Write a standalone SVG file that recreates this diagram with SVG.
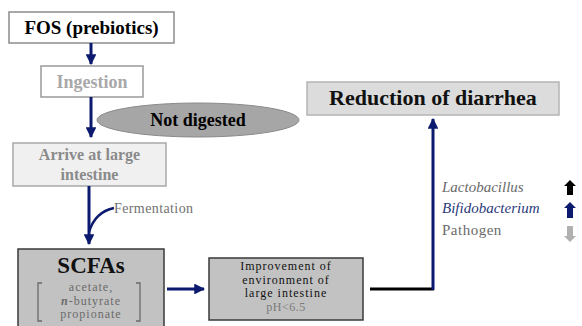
<svg xmlns="http://www.w3.org/2000/svg" width="582" height="326" viewBox="0 0 582 326">
<defs>
<marker id="ah" viewBox="0 0 10 10" refX="9" refY="5" markerWidth="3.6" markerHeight="3.6" orient="auto" markerUnits="strokeWidth">
<path d="M0,0 L10,5 L0,10 Z" fill="#0b1a6e"/>
</marker>
</defs>
<rect width="582" height="326" fill="#ffffff"/>
<g id="fos">
<rect x="9" y="12" width="165" height="31" fill="#ffffff" stroke="#8c8c8c" stroke-width="1.5"/>
<text font-family="Liberation Serif, serif" font-weight="bold" text-anchor="middle" x="91.5" y="34" font-size="19" fill="#000">FOS (prebiotics)</text>
</g>
<g id="ingestion">
<rect x="41" y="66" width="102" height="31" fill="#ffffff" stroke="#9a9a9a" stroke-width="1.5"/>
<text font-family="Liberation Serif, serif" font-weight="bold" text-anchor="middle" x="92" y="88" font-size="18" fill="#a8a8a8">Ingestion</text>
</g>
<g id="not-digested">
<ellipse cx="198" cy="120" rx="101" ry="17" fill="#a6a6a6" stroke="#8a8a8a" stroke-width="1"/>
<text font-family="Liberation Serif, serif" font-weight="bold" text-anchor="middle" x="198" y="126" font-size="18" fill="#000">Not digested</text>
</g>
<g id="arrive">
<rect x="13" y="143" width="153" height="43" fill="#f0f0f0" stroke="#a8a8a8" stroke-width="1.5"/>
<text font-family="Liberation Serif, serif" font-weight="bold" text-anchor="middle" x="89.5" y="160" font-size="16" fill="#8a8a8a">Arrive at large</text>
<text font-family="Liberation Serif, serif" font-weight="bold" text-anchor="middle" x="89.5" y="180" font-size="16" fill="#8a8a8a">intestine</text>
</g>
<g id="scfas">
<rect x="18" y="249" width="146" height="82" fill="#c2c2c2" stroke="#3a3a3a" stroke-width="1.5"/>
<text font-family="Liberation Serif, serif" font-weight="bold" text-anchor="middle" x="91" y="273" font-size="23" fill="#111">SCFAs</text>
<text font-family="Liberation Serif, serif" text-anchor="middle" x="91" y="291" font-size="12" fill="#6a6a6a" letter-spacing="1">acetate,</text>
<text font-family="Liberation Serif, serif" text-anchor="middle" x="91" y="304.5" font-size="12" fill="#6a6a6a" letter-spacing="1"><tspan font-style="italic" font-weight="bold">n</tspan>-butyrate</text>
<text font-family="Liberation Serif, serif" text-anchor="middle" x="91" y="318" font-size="12" fill="#6a6a6a" letter-spacing="1">propionate</text>
<path d="M42,283 L38,283 L38,321 L42,321 M136,283 L140,283 L140,321 L136,321" fill="none" stroke="#6a6a6a" stroke-width="1.3"/>
</g>
<g id="improvement">
<rect x="209" y="258" width="154" height="62" fill="#c2c2c2" stroke="#3a3a3a" stroke-width="1.5"/>
<text font-family="Liberation Serif, serif" text-anchor="middle" x="286" y="270" font-size="12" fill="#111" letter-spacing="1">Improvement of</text>
<text font-family="Liberation Serif, serif" text-anchor="middle" x="286" y="283.5" font-size="12" fill="#111" letter-spacing="1">environment of</text>
<text font-family="Liberation Serif, serif" text-anchor="middle" x="286" y="297" font-size="12" fill="#111" letter-spacing="1">large intestine</text>
<text font-family="Liberation Serif, serif" text-anchor="middle" x="286" y="310.5" font-size="12" fill="#7a7a7a" letter-spacing="0.5">pH&lt;6.5</text>
</g>
<g id="reduction">
<rect x="307" y="82" width="252" height="33" fill="#dcdcdc" stroke="#b4b4b4" stroke-width="1.5"/>
<text font-family="Liberation Serif, serif" font-weight="bold" text-anchor="middle" x="433" y="105" font-size="22" fill="#111">Reduction of diarrhea</text>
</g>
<g id="connectors" fill="none" stroke="#0b1a6e" stroke-width="3">
<line x1="91" y1="43" x2="91" y2="64" marker-end="url(#ah)"/>
<line x1="91" y1="97" x2="91" y2="137" marker-end="url(#ah)"/>
<line x1="89" y1="186" x2="89" y2="244" marker-end="url(#ah)"/>
<path d="M114,208 Q95,212 89,232" stroke-width="2.5"/>
<line x1="167" y1="289" x2="204" y2="289" marker-end="url(#ah)"/>
<line x1="370" y1="289" x2="434" y2="289" stroke="#000"/>
<line x1="433" y1="290" x2="433" y2="119" marker-end="url(#ah)"/>
<text font-family="Liberation Serif, serif" x="114" y="213" font-size="14" fill="#707070" stroke="none" letter-spacing="0.4">Fermentation</text>
</g>
<g id="microbes">
<text font-family="Liberation Serif, serif" x="442" y="192" font-size="15" font-style="italic" fill="#6a6a6a">Lactobacillus</text>
<text font-family="Liberation Serif, serif" x="442" y="213" font-size="15" font-style="italic" fill="#2a3a7a">Bifidobacterium</text>
<text font-family="Liberation Serif, serif" x="442" y="235" font-size="15" fill="#6a6a6a" letter-spacing="0.5">Pathogen</text>
<path d="M570,180 L576,186 L573,186 L573,195 L567,195 L567,186 L564,186 Z" fill="#000"/>
<path d="M570,202 L576,208 L573,208 L573,218 L567,218 L567,208 L564,208 Z" fill="#0b1a6e"/>
<path d="M570,242 L576,236 L573,236 L573,226 L567,226 L567,236 L564,236 Z" fill="#b0b0b0"/>
</g>
</svg>
